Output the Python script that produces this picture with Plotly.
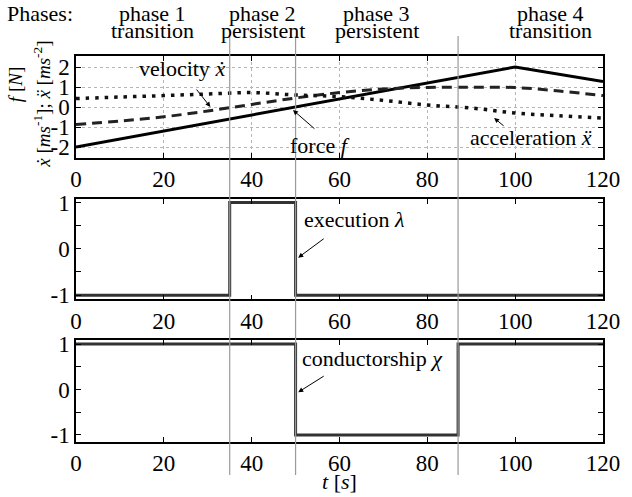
import plotly.graph_objects as go
from plotly.subplots import make_subplots

# ---------------- data ----------------
t_force = [0, 100, 120]
force = [-2.0, 2.0, 1.27]

t_curve = [0, 10, 20, 30, 40, 50, 60, 70, 80, 90, 100, 110, 120]
velocity = [-0.87, -0.70, -0.49, -0.20, 0.13, 0.45, 0.72, 0.90, 0.98, 0.99, 0.97, 0.80, 0.57]
acceleration = [0.42, 0.50, 0.57, 0.65, 0.72, 0.60, 0.52, 0.33, 0.10, -0.05, -0.30, -0.44, -0.55]

t_exec = [0, 35, 50, 120]
execution = [-1, 1, -1, -1]

t_cond = [0, 50, 87, 120]
conductorship = [1, -1, 1, 1]

phase_bounds = [35, 50, 87]
phase_centers = [17.5, 42.5, 68.5, 108]
phase_names = ["phase 1", "phase 2", "phase 3", "phase 4"]
phase_types = ["transition", "persistent", "persistent", "transition"]

x_ticks = [0, 20, 40, 60, 80, 100, 120]
y_ticks_top = [-2, -1, 0, 1, 2]
y_ticks_step = [-1, -0.5, 0, 0.5, 1]
y_text_step = ["-1", "", "0", "", "1"]

# ---------------- figure ----------------
W, H = 632, 497
L, R, T, B = 76, 19, 56, 55
ph = H - T - B


def dom(top_px, bot_px):
    return [(H - B - bot_px) / ph, (H - B - top_px) / ph]


def ypx(py):
    return (H - B - py) / ph


def xpx(px):
    return (px - L) / (W - L - R)


FONT = "Liberation Serif, Times New Roman, serif"

fig = make_subplots(rows=3, cols=1)

fig.add_trace(go.Scatter(x=t_force, y=force, mode="lines",
                         line=dict(color="black", width=3)), row=1, col=1)
fig.add_trace(go.Scatter(x=t_curve, y=velocity, mode="lines", line_shape="spline",
                         line=dict(color="#222222", width=3, dash="10px,6px")), row=1, col=1)
fig.add_trace(go.Scatter(x=t_curve, y=acceleration, mode="lines", line_shape="spline",
                         line=dict(color="#111111", width=3.5, dash="3.5px,6px")), row=1, col=1)
fig.add_trace(go.Scatter(x=t_exec, y=execution, mode="lines", line_shape="hv",
                         line=dict(color="#333333", width=3)), row=2, col=1)
fig.add_trace(go.Scatter(x=t_cond, y=conductorship, mode="lines", line_shape="hv",
                         line=dict(color="#333333", width=3)), row=3, col=1)

axis_common = dict(showline=True, linecolor="black", linewidth=1.5, mirror="ticks",
                   ticks="inside", ticklen=5, tickcolor="black", zeroline=False,
                   tickfont=dict(family=FONT, size=23, color="black"))

domains = [dom(56, 158), dom(199.3, 299.3), dom(340, 441.7)]
yranges = [[-2.55, 2.55], [-1.09, 1.07], [-1.15, 1.09]]

for i in range(3):
    xa = "xaxis" if i == 0 else f"xaxis{i+1}"
    ya = "yaxis" if i == 0 else f"yaxis{i+1}"
    fig.layout[xa].update(domain=[0, 1], range=[0, 120], tickvals=x_ticks,
                          ticktext=[str(v) for v in x_ticks],
                          showgrid=(i == 0), gridcolor="#b5b5b5", griddash="dot", gridwidth=1,
                          **axis_common)
    if i == 0:
        fig.layout[ya].update(domain=domains[i], range=yranges[i], tickvals=y_ticks_top,
                              ticktext=[str(v) for v in y_ticks_top],
                              showgrid=True, gridcolor="#b5b5b5", griddash="dot", gridwidth=1,
                              **axis_common)
    else:
        fig.layout[ya].update(domain=domains[i], range=yranges[i], tickvals=y_ticks_step,
                              ticktext=y_text_step, showgrid=False, **axis_common)

# phase boundary lines
for b in phase_bounds:
    fig.add_shape(type="line", xref="x", yref="paper", x0=b, x1=b,
                  y0=ypx(475), y1=ypx(36),
                  line=dict(color="#9a9a9a", width=1.2), layer="above")

ann = []
afont = dict(family=FONT, size=22, color="black")
ann.append(dict(text="Phases:", xref="paper", yref="paper", x=xpx(4), y=ypx(13),
                xanchor="left", yanchor="middle", showarrow=False, font=afont))
for c, n, tt in zip(phase_centers, phase_names, phase_types):
    ann.append(dict(text=n, xref="x", yref="paper", x=c, y=ypx(13), xanchor="center",
                    yanchor="middle", showarrow=False, font=afont))
    ann.append(dict(text=tt, xref="x", yref="paper", x=c, y=ypx(31), xanchor="center",
                    yanchor="middle", showarrow=False, font=afont))

# y-axis title of top panel
yfont = dict(family=FONT, size=19, color="black")
ann.append(dict(text="<i>f</i> [<i>N</i>]", xref="paper", yref="paper",
                x=xpx(14), y=ypx(85), textangle=-90, xanchor="center",
                yanchor="middle", showarrow=False, font=yfont))
ann.append(dict(text="<i>x\u0307</i> [<i>ms</i><sup>-1</sup>]; <i>x\u0308</i> [<i>ms</i><sup>-2</sup>]",
                xref="paper", yref="paper", x=xpx(41), y=ypx(104), textangle=-90,
                xanchor="center", yanchor="middle", showarrow=False, font=yfont))

# text labels in panels
ann.append(dict(text="velocity <i>x\u0307</i>", xref="x", yref="y", x=24.1, y=1.93,
                showarrow=False, font=afont))
ann.append(dict(text="", xref="x", yref="y", x=30.6, y=0.0, ax=-15, ay=-19,
                showarrow=True, arrowhead=2, arrowsize=1, arrowwidth=1, arrowcolor="black"))
ann.append(dict(text="force <i>f</i>", xref="x", yref="y", x=55.6, y=-1.9,
                showarrow=False, font=afont))
ann.append(dict(text="", xref="x", yref="y", x=49.4, y=-0.15, ax=23, ay=20,
                showarrow=True, arrowhead=2, arrowsize=1, arrowwidth=1, arrowcolor="black"))
ann.append(dict(text="acceleration <i>x\u0308</i>", xref="x", yref="y", x=103.7, y=-1.5,
                showarrow=False, font=afont))
ann.append(dict(text="", xref="x", yref="y", x=95.2, y=-0.55, ax=11, ay=9,
                showarrow=True, arrowhead=2, arrowsize=1, arrowwidth=1, arrowcolor="black"))
ann.append(dict(text="execution <i>λ</i>", xref="x2", yref="y2", x=63.4, y=0.63,
                showarrow=False, font=afont))
ann.append(dict(text="", xref="x2", yref="y2", x=50.6, y=-0.19, ax=27, ay=-20,
                showarrow=True, arrowhead=2, arrowsize=1, arrowwidth=1, arrowcolor="black"))
ann.append(dict(text="conductorship <i>χ</i>", xref="x3", yref="y3", x=67.5, y=0.69,
                showarrow=False, font=afont))
ann.append(dict(text="", xref="x3", yref="y3", x=50.6, y=-0.06, ax=27, ay=-17,
                showarrow=True, arrowhead=2, arrowsize=1, arrowwidth=1, arrowcolor="black"))
ann.append(dict(text="<i>t</i> [<i>s</i>]", xref="x3", yref="paper", x=60, y=ypx(482),
                yanchor="middle", showarrow=False, font=afont))

fig.update_layout(width=W, height=H, margin=dict(l=L, r=R, t=T, b=B),
                  paper_bgcolor="white", plot_bgcolor="white", showlegend=False,
                  annotations=ann, font=dict(family=FONT, color="black"))

fig.write_html("out.html", config={"displayModeBar": False},
               post_script="document.body.style.margin='0px';document.body.style.overflow='hidden';")
